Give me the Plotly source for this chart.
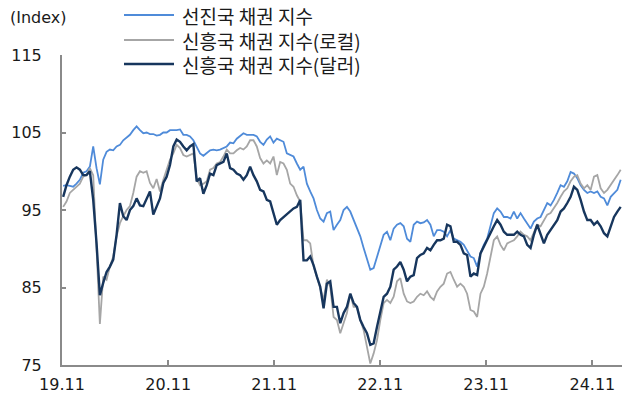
import pandas as pd
import plotly.graph_objects as go

# ---------------- data ----------------
SERIES_NAMES = ["선진국 채권 지수", "신흥국 채권 지수(로컬)", "신흥국 채권 지수(달러)"]

DEV = [98.1, 98.2, 98.1, 98.0, 98.4, 98.9, 99.8, 100.0, 100.6, 103.2, 100.4, 98.3, 101.5, 102.5, 102.8, 102.7, 103.2,
       103.4, 104.0, 104.3, 104.7, 105.3, 105.8, 105.3, 104.9, 105.0, 104.8, 104.8, 104.6, 104.7, 105.0, 105.0, 105.3, 105.3,
       105.3, 105.4, 104.7, 104.7, 104.5, 104.0, 103.2, 102.3, 102.0, 102.3, 102.7, 102.8, 102.7, 102.8, 103.0, 103.2, 103.7,
       103.6, 104.2, 104.5, 104.9, 104.7, 104.7, 104.7, 104.5, 103.8, 103.4, 104.1, 104.5, 103.7, 104.2, 104.0, 103.8,
       102.3, 102.1, 101.9, 101.0, 100.2, 100.6, 98.4, 97.4, 96.5, 95.0, 93.9, 93.5, 94.6, 94.8, 92.4, 93.1, 93.7, 95.0, 95.4,
       94.8, 93.7, 92.6, 91.6, 90.1, 88.8, 87.3, 87.5, 89.0, 90.3, 91.8, 92.2, 91.1, 92.6,
       93.1, 93.3, 92.9, 91.3, 90.9, 93.1, 93.5, 93.3, 93.4, 93.7, 93.1, 91.6, 92.4, 92.4, 92.2, 91.6, 92.4, 91.3, 91.1, 90.9,
       90.5, 89.8, 89.0, 88.8, 87.7, 89.4, 90.5, 91.3, 92.9, 94.6, 95.2, 94.8, 94.1,
       94.1, 93.9, 94.8, 93.9, 94.6, 93.9, 93.3, 92.6, 93.5, 93.9, 94.1, 95.0, 95.9, 95.6, 96.3, 97.2, 98.2, 98.0, 98.7, 99.9,
       99.7, 99.1, 98.2, 97.6, 97.2, 97.4, 97.2, 97.4, 96.7, 96.5, 95.6, 96.7, 97.2, 97.6, 98.9]

EM_LOCAL = [95.4, 96.1, 97.2, 97.6, 97.9, 98.4, 99.3, 99.5, 100.4, 99.5, 90.0, 80.3, 86.4, 86.0, 87.7, 89.0, 91.6, 93.3,
            94.2, 95.0, 95.5, 97.2, 99.3, 100.0, 99.8, 100.0, 98.5, 97.8, 99.0, 97.4, 98.9, 100.2, 101.5, 102.3,
            103.4, 103.0, 102.1, 101.9, 102.1, 102.3, 99.1, 98.2, 98.4, 98.7, 100.2, 100.4, 101.0, 101.2, 101.9, 102.8, 102.3,
            102.3, 102.7, 103.0, 102.8, 103.2, 104.0, 104.0, 103.2, 101.7, 101.0, 101.4, 101.0, 101.9, 99.5, 101.2, 101.0,
            100.2, 98.4, 98.0, 96.9, 96.1, 91.1, 91.1, 90.7, 87.7, 86.4, 84.9, 83.4, 86.0, 85.1, 81.2, 80.8, 79.1, 80.4, 81.7,
            84.2, 82.5, 82.5, 80.8, 79.5, 77.4, 75.2, 76.5, 78.2, 80.8, 83.0, 83.4, 83.0, 83.8,
            85.8, 86.2, 84.2, 83.2, 83.0, 83.2, 83.8, 84.2, 84.0, 84.5, 83.8, 83.4, 84.5, 85.1, 85.5, 86.8, 87.0, 86.0, 85.1,
            85.5, 85.1, 84.2, 82.1, 81.9, 81.2, 84.2, 85.1, 86.8, 89.0, 91.1, 91.6, 90.5, 89.8,
            90.7, 90.9, 91.1, 91.6, 92.2, 91.8, 91.6, 91.1, 92.2, 93.1, 92.9, 93.7, 94.4, 94.6, 95.2, 95.9, 96.7, 97.4, 97.8,
            98.7, 99.3, 99.5, 98.4, 97.8, 98.2, 97.6, 99.3, 99.5, 97.8, 97.2, 97.6, 98.2, 98.9, 99.5, 100.2]

EM_USD = [96.7, 98.2, 99.3, 100.2, 100.5, 100.2, 99.5, 99.5, 100.0, 96.3, 90.7, 84.0, 85.6, 87.0, 87.7, 88.6, 91.8, 95.9,
          94.2, 93.7, 95.0, 95.5, 96.5, 95.6, 95.5, 96.5, 97.4, 94.4, 95.5, 96.5, 98.5, 99.3, 100.8, 103.2,
          104.1, 103.8, 103.2, 102.7, 103.2, 103.5, 98.7, 99.1, 97.1, 98.2, 99.7, 99.5, 100.8, 101.0, 101.2, 102.3, 100.4,
          100.2, 99.7, 99.5, 98.9, 99.5, 100.6, 99.5, 98.7, 97.6, 97.4, 96.3, 96.1, 94.6, 93.1, 93.7, 94.1,
          94.4, 94.8, 95.2, 95.4, 96.3, 88.5, 88.5, 89.0, 87.9, 86.4, 85.1, 82.3, 85.5, 85.8, 82.5, 82.5, 80.4, 81.7, 82.5,
          84.2, 83.0, 82.5, 80.8, 79.9, 79.1, 77.6, 77.8, 79.9, 81.7, 83.8, 84.2, 85.1, 87.3,
          87.7, 88.3, 87.3, 85.8, 86.4, 86.6, 88.8, 89.2, 89.4, 90.1, 89.8, 90.5, 91.1, 91.1, 91.3, 93.1, 92.9, 90.9, 90.9,
          90.5, 89.4, 89.2, 86.4, 86.8, 86.6, 89.4, 90.3, 91.1, 92.2, 92.9, 93.7, 93.1, 92.2,
          91.8, 91.8, 91.8, 92.2, 91.8, 91.6, 90.5, 90.1, 91.8, 93.1, 91.8, 90.7, 91.8, 92.4, 93.1, 93.7, 94.8, 95.2, 95.9,
          96.7, 98.0, 97.6, 96.3, 94.8, 93.7, 93.7, 93.1, 93.5, 92.9, 92.0, 91.6, 92.9, 94.1, 94.8, 95.4]

X_TICK_VALUES = ["2019-11-01", "2020-11-01", "2021-11-01", "2022-11-01", "2023-11-01", "2024-11-01"]
X_TICK_LABELS = ["19.11", "20.11", "21.11", "22.11", "23.11", "24.11"]
Y_TICK_VALUES = [75, 85, 95, 105, 115]
Y_TICK_LABELS = ["75", "85", "95", "105", "115"]

COLORS = ["#4F8BD9", "#A6A6A6", "#17365D"]
WIDTHS = [1.8, 1.8, 2.4]

# ---------------- figure ----------------
W, H = 622, 401
ML, MR, MT, MB = 62, 0, 55, 36
PW, PH = W - ML - MR, H - MT - MB

fig = go.Figure()
for name, vals, col, lw in zip(SERIES_NAMES, [DEV, EM_LOCAL, EM_USD], COLORS, WIDTHS):
    dates = pd.date_range("2019-11-05", periods=len(vals), freq="276h")
    fig.add_trace(go.Scatter(x=dates, y=vals, mode="lines", name=name,
                             line=dict(color=col, width=lw), showlegend=False))

AXIS_COLOR = "#8A8A8A"
NUM_FONT = dict(family="DejaVu Sans", size=16, color="#1a1a1a")

fig.update_layout(
    width=W, height=H,
    margin=dict(l=ML, r=MR, t=MT, b=MB, autoexpand=False),
    paper_bgcolor="white", plot_bgcolor="white",
    xaxis=dict(type="date", range=["2019-11-01", "2025-02-11"],
               tickvals=X_TICK_VALUES, ticktext=X_TICK_LABELS,
               ticks="inside", ticklen=5, tickwidth=1.5, tickcolor=AXIS_COLOR,
               showline=True, linecolor=AXIS_COLOR, linewidth=2,
               showgrid=False, zeroline=False, tickfont=NUM_FONT,
               ticklabelstandoff=4, automargin=False),
    yaxis=dict(range=[75, 115], tickvals=Y_TICK_VALUES, ticktext=Y_TICK_LABELS,
               ticks="inside", ticklen=4, tickwidth=1.5, tickcolor=AXIS_COLOR,
               showline=True, linecolor=AXIS_COLOR, linewidth=2,
               showgrid=False, zeroline=False, tickfont=NUM_FONT,
               ticklabelstandoff=15, automargin=False),
)


def px_to_paper(px, py):
    """figure pixel -> paper coordinate"""
    return (px - ML) / PW, (H - MB - py) / PH


# manual legend: three line samples + one multi-line label block
shapes = []
legend_rows_y = [15, 40, 64]
for col, lw, ry in zip(COLORS, WIDTHS, legend_rows_y):
    x0, y0 = px_to_paper(124, ry)
    x1, _ = px_to_paper(174, ry)
    shapes.append(dict(type="line", xref="paper", yref="paper", x0=x0, x1=x1, y0=y0, y1=y0,
                       line=dict(color=col, width=lw)))

tx, ty = px_to_paper(180, 40)
annotations = [dict(xref="paper", yref="paper", x=tx, y=ty, xanchor="left", yanchor="middle",
                    align="left", text="<br>".join(SERIES_NAMES), showarrow=False,
                    font=dict(family="Noto Sans CJK KR", size=19, color="#1a1a1a"))]

ux, uy = px_to_paper(8, 17)
annotations.append(dict(xref="paper", yref="paper", x=ux, y=uy, xanchor="left", yanchor="middle",
                        text="(Index)", showarrow=False, font=NUM_FONT))

fig.update_layout(annotations=annotations, shapes=shapes)

# the page body keeps a default 8px margin; remove it so the figure sits at (0, 0)
fig.write_html("out.html", config={"displayModeBar": False},
               post_script="document.body.style.margin='0px';")
